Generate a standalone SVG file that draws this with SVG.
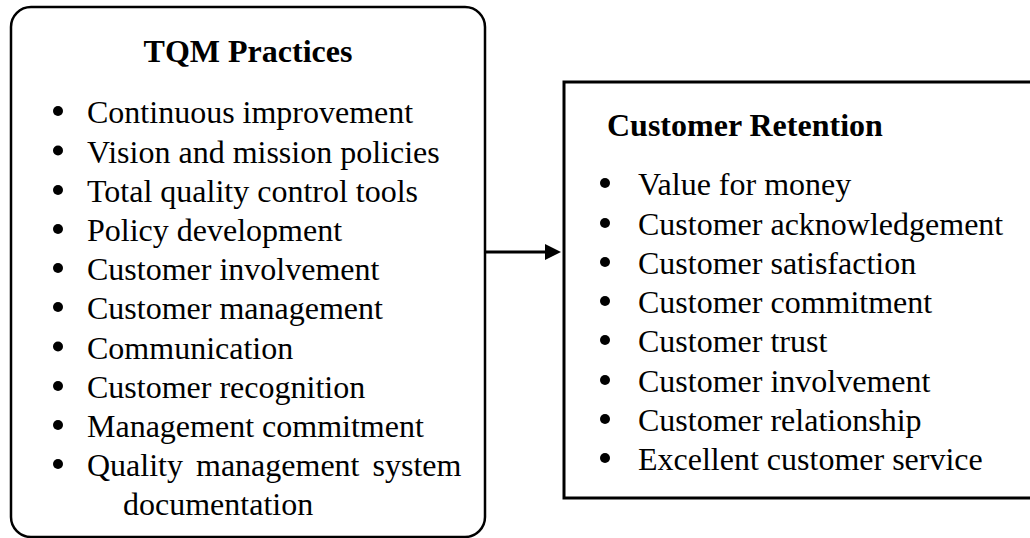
<svg xmlns="http://www.w3.org/2000/svg" width="1030" height="538" viewBox="0 0 1030 538">
<style>
.box{fill:#fff;stroke:#000;stroke-width:2.5}
.box2{fill:#fff;stroke:#000;stroke-width:3}
.title{font-family:"Liberation Serif","Times New Roman",serif;font-weight:bold;font-size:32px;fill:#000}
.item{font-family:"Liberation Serif","Times New Roman",serif;font-size:32px;fill:#000}
.conn{stroke:#000;stroke-width:3;fill:none}
</style>
<defs>
<circle id="dot" r="5" fill="#000"/>
</defs>
<rect width="1030" height="538" fill="#fff"/>
<g id="tqm">
<rect class="box" x="11" y="7" width="474" height="530" rx="20" ry="20"/>
<text class="title" x="248" y="62" text-anchor="middle">TQM Practices</text>
<use href="#dot" x="58" y="111"/><text class="item" x="87" y="123">Continuous improvement</text>
<use href="#dot" x="58" y="150.5"/><text class="item" x="87" y="162.5">Vision and mission policies</text>
<use href="#dot" x="58" y="190"/><text class="item" x="87" y="202">Total quality control tools</text>
<use href="#dot" x="58" y="229"/><text class="item" x="87" y="241">Policy development</text>
<use href="#dot" x="58" y="268"/><text class="item" x="87" y="280">Customer involvement</text>
<use href="#dot" x="58" y="307"/><text class="item" x="87" y="319">Customer management</text>
<use href="#dot" x="58" y="346.5"/><text class="item" x="87" y="358.5">Communication</text>
<use href="#dot" x="58" y="386"/><text class="item" x="87" y="398">Customer recognition</text>
<use href="#dot" x="58" y="425"/><text class="item" x="87" y="437">Management commitment</text>
<use href="#dot" x="58" y="464"/><text class="item" x="87" y="476" word-spacing="5">Quality management system</text>
<text class="item" x="123" y="515">documentation</text>
</g>
<g id="retention">
<rect class="box2" x="564" y="82" width="480" height="416"/>
<text class="title" x="607" y="136">Customer Retention</text>
<use href="#dot" x="605" y="183"/><text class="item" x="638" y="195">Value for money</text>
<use href="#dot" x="605" y="223"/><text class="item" x="638" y="235">Customer acknowledgement</text>
<use href="#dot" x="605" y="262"/><text class="item" x="638" y="274">Customer satisfaction</text>
<use href="#dot" x="605" y="301"/><text class="item" x="638" y="313">Customer commitment</text>
<use href="#dot" x="605" y="340"/><text class="item" x="638" y="352">Customer trust</text>
<use href="#dot" x="605" y="380"/><text class="item" x="638" y="392">Customer involvement</text>
<use href="#dot" x="605" y="419"/><text class="item" x="638" y="431">Customer relationship</text>
<use href="#dot" x="605" y="458"/><text class="item" x="638" y="470">Excellent customer service</text>
</g>
<g id="connectors">
<line class="conn" x1="485" y1="252" x2="546" y2="252"/>
<polygon points="545,244 561,252 545,260" fill="#000"/>
</g>
</svg>
